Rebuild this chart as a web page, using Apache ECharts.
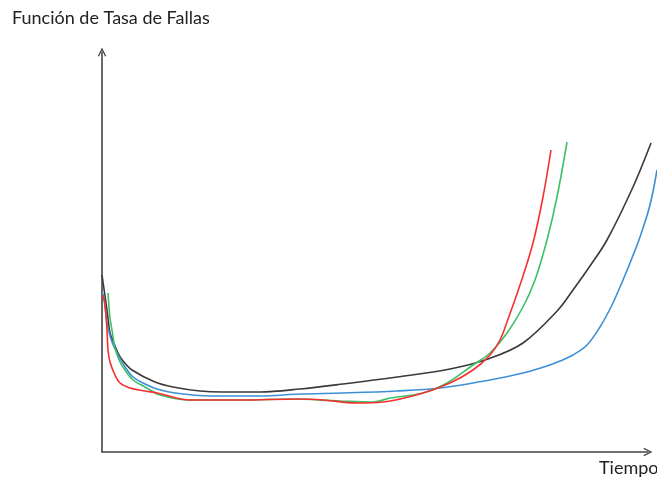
<!DOCTYPE html>
<html><head><meta charset="utf-8">
<script src="https://cdn.jsdelivr.net/npm/echarts@6/dist/echarts.min.js"></script>
<style>html,body{margin:0;padding:0;background:#fff}#c{width:657px;height:479px}</style>
</head><body><div id="c"></div>
<script>
const yLabel = 'Función de Tasa de Fallas';
const xLabel = 'Tiempo';
// (arbitrary time / rate units)
const blackT = [0,1,3,5,8,11,16,21,30,53,71,98,121,158,198,241,295,348,386,421,456,471,488,505,531,549];
const blackR = [177,170,156,142,119,111,99,91,82,70,65,61,60,60,63,68,75,83,93,109,142,162,186,212,265,309];
const blueT = [0,2,4,6,10,15,23,31,43,55,73,108,158,198,241,295,338,388,421,445,458,471,485,498,510,521,530,538,548,555];
const blueR = [160,154,137,124,110,99,85,75,68,63,59,56,56,58,59,61,64,72,79,86,91,97,107,125,147,172,194,215,247,282];
const greenT = [6,8,10,13,18,23,31,43,58,88,138,188,238,271,288,321,345,371,388,405,421,433,445,455,465];
const greenR = [159,134,122,104,90,82,72,65,57,52,52,53,51,50,54,59,69,87,99,119,145,172,212,255,310];
const redT = [1,3,5,6,8,13,18,28,43,55,88,138,198,221,255,281,321,348,371,388,398,405,418,431,441,449];
const redR = [157,147,122,102,90,77,69,64,61,59,52,52,53,52,49,50,59,69,82,97,112,130,167,209,255,302];

const pairs = (t, r) => t.map((v, i) => [v, r[i]]);
const arrow = 'path://M0,10 L5,0 L10,10 L8.6,10.6 L5,3.2 L1.4,10.6 Z';
const axisLine = { show: true, symbol: ['none', arrow], symbolSize: [9, 9], lineStyle: { color: '#444', width: 1.6 } };
const hidden = { show: false };
function mk(name, t, r, color) {
  return { name, type: 'line', xAxisIndex: 1, yAxisIndex: 1, data: pairs(t, r), showSymbol: false, smooth: 0.35,
    clip: false, lineStyle: { color, width: 1.6 }, itemStyle: { color } };
}
const chart = echarts.init(document.getElementById('c'), null, { renderer: 'canvas' });
chart.setOption({
  animation: false,
  backgroundColor: '#fff',
  grid: [
    { left: 102, right: 9, top: 52, bottom: 27 },
    { left: 102, right: 0, top: 52, bottom: 27 }
  ],
  xAxis: [
    { type: 'value', gridIndex: 0, min: 0, max: 546, axisLine, axisTick: hidden, axisLabel: hidden, splitLine: hidden },
    { type: 'value', gridIndex: 1, min: 0, max: 555, show: false }
  ],
  yAxis: [
    { type: 'value', gridIndex: 0, min: 0, max: 400, axisLine, axisTick: hidden, axisLabel: hidden, splitLine: hidden },
    { type: 'value', gridIndex: 1, min: 0, max: 400, show: false }
  ],
  graphic: [
    { type: 'text', left: 12, top: 9, style: { text: yLabel, font: '18px Lato', fill: '#222' } },
    { type: 'text', left: 599, top: 459, style: { text: xLabel, font: '18px Lato', fill: '#222' } }
  ],
  series: [
    mk('negro', blackT, blackR, '#3a3a3a'),
    mk('azul', blueT, blueR, '#3d8fd6'),
    mk('verde', greenT, greenR, '#3cc068'),
    mk('rojo', redT, redR, '#f53030')
  ]
});
</script></body></html>
